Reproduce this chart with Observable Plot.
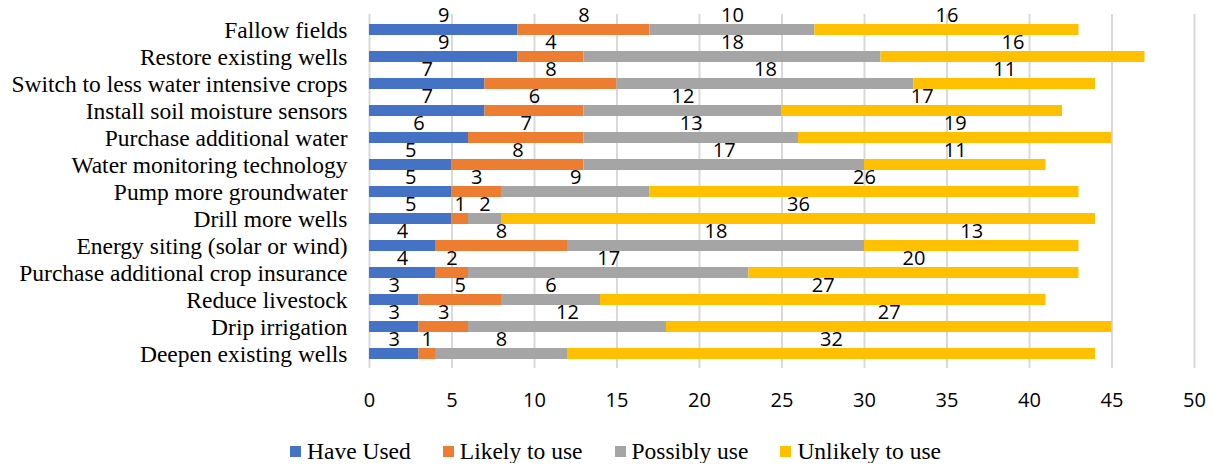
<!DOCTYPE html>
<html>
<head>
<meta charset="utf-8">
<script src="https://cdn.jsdelivr.net/npm/d3@7"></script>
<script src="https://cdn.jsdelivr.net/npm/@observablehq/plot@0.6"></script>
<style>
  html, body { margin: 0; padding: 0; background: #fff; color: #000; }
  #legend { display: flex; justify-content: center; align-items: center; height: 24px; margin-top: 24px; padding-left: 16px;
    font-family: "Liberation Serif", "Times New Roman", serif; font-size: 23.5px; }
  .item { display: flex; align-items: center; margin: 0 16px; }
  .sw { width: 11px; height: 11px; margin-right: 6px; }
</style>
</head>
<body>
<div id="chart"></div>
<div id="legend"></div>
<script>
const categories = [
  "Fallow fields",
  "Restore existing wells",
  "Switch to less water intensive crops",
  "Install soil moisture sensors",
  "Purchase additional water",
  "Water monitoring technology",
  "Pump more groundwater",
  "Drill more wells",
  "Energy siting (solar or wind)",
  "Purchase additional crop insurance",
  "Reduce livestock",
  "Drip irrigation",
  "Deepen existing wells"
];
const seriesNames = ["Have Used", "Likely to use", "Possibly use", "Unlikely to use"];
const haveUsed      = [9, 9, 7, 7, 6, 5, 5, 5, 4, 4, 3, 3, 3];
const likelyToUse   = [8, 4, 8, 6, 7, 8, 3, 1, 8, 2, 5, 3, 1];
const possiblyUse   = [10, 18, 18, 12, 13, 17, 9, 2, 18, 17, 6, 12, 8];
const unlikelyToUse = [16, 16, 11, 17, 19, 11, 26, 36, 13, 20, 27, 27, 32];
const xTicks = [0, 5, 10, 15, 20, 25, 30, 35, 40, 45, 50];
const colors = ["#4472C4", "#ED7D31", "#A5A5A5", "#FFC000"];

const seriesValues = [haveUsed, likelyToUse, possiblyUse, unlikelyToUse];
const rows = categories.flatMap((c, i) =>
  seriesNames.map((s, j) => ({category: c, series: s, value: seriesValues[j][i]}))
);

const chart = Plot.plot({
  width: 1215,
  height: 415,
  marginLeft: 369,
  marginRight: 21,
  marginTop: 14,
  marginBottom: 47,
  style: {background: "#fff", color: "#000"},
  x: {domain: [0, 50], ticks: xTicks},
  y: {domain: categories, paddingInner: 0.6, paddingOuter: 0.3},
  color: {domain: seriesNames, range: colors},
  marks: [
    Plot.gridX(xTicks, {stroke: "#d9d9d9", strokeOpacity: 1, strokeWidth: 2}),
    Plot.barX(rows, {x: "value", y: "category", fill: "series", order: seriesNames}),
    Plot.text(rows, Plot.stackX({
      x: "value", y: "category", z: "series", order: seriesNames, text: "value",
      dy: -14, fontSize: 20, fontFamily: "Open Sans", fill: "#000"
    })),
    Plot.axisX({ticks: xTicks, tickSize: 0, tickPadding: 24, fontSize: 20, fontFamily: "Open Sans", label: null}),
    Plot.axisY({tickSize: 0, tickPadding: 22, fontSize: 23.5, fontFamily: "Liberation Serif", label: null})
  ]
});
document.getElementById("chart").appendChild(chart);

const legend = document.getElementById("legend");
seriesNames.forEach((s, i) => {
  const item = document.createElement("div");
  item.className = "item";
  const sw = document.createElement("div");
  sw.className = "sw";
  sw.style.background = colors[i];
  const t = document.createElement("span");
  t.textContent = s;
  item.appendChild(sw);
  item.appendChild(t);
  legend.appendChild(item);
});
</script>
</body>
</html>
